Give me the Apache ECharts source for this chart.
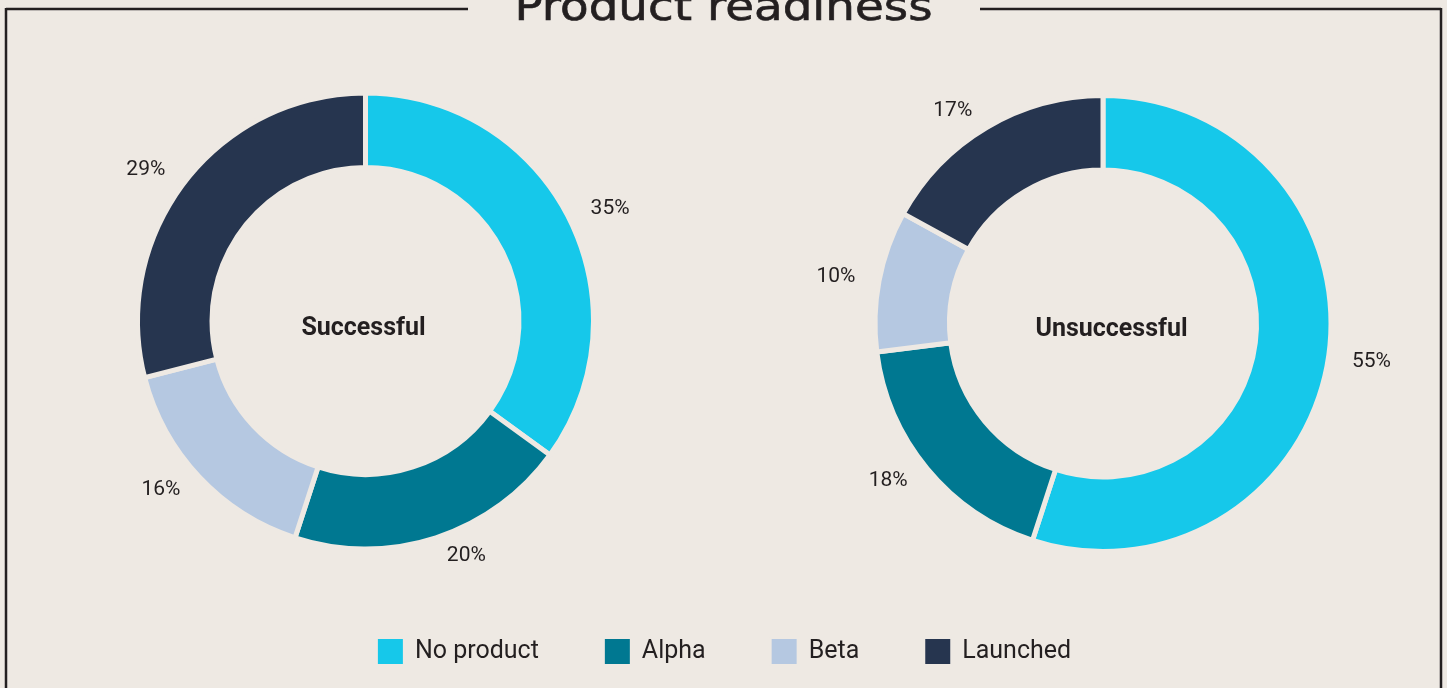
<!DOCTYPE html>
<html>
<head>
<meta charset="utf-8">
<script src="https://cdn.jsdelivr.net/npm/echarts@6/dist/echarts.min.js"></script>
<style>
  html, body { margin: 0; padding: 0; background: #EEE9E3; }
  #chart { width: 1447px; height: 688px; }
</style>
</head>
<body>
<div id="chart"></div>
<script>
// Product readiness by outcome (percent of companies)
const categories = ['No product', 'Alpha', 'Beta', 'Launched'];
const successful = [35, 20, 16, 29];
const unsuccessful = [55, 18, 10, 17];
const groupNames = ['Successful', 'Unsuccessful'];

const colors = ['#16C8EA', '#007891', '#B5C8E1', '#26354F'];
const bg = '#EEE9E3';
const ink = '#231F20';

const chart = echarts.init(document.getElementById('chart'), null, { renderer: 'canvas' });

function rows(values) {
  return categories.map((name, i) => ({ name, value: values[i] }));
}

// Donut ring with its percent labels just outside each slice;
// the background-coloured border opens a small gap between slices
function ring(values, center) {
  return {
    type: 'pie',
    center,
    radius: [153.5, 228],
    startAngle: 90,
    clockwise: true,
    avoidLabelOverlap: false,
    silent: true,
    data: rows(values),
    itemStyle: { borderColor: bg, borderWidth: 5 },
    label: {
      show: true,
      position: 'outside',
      alignTo: 'none',
      formatter: '{c}%',
      color: ink,
      fontFamily: 'Roboto',
      fontSize: 21
    },
    labelLine: { show: false, length: 19, length2: 0 }
  };
}

const leftCenter = [365.5, 321];
const rightCenter = [1103, 323.5];

function caption(text, x, y) {
  return {
    type: 'text',
    x, y,
    style: {
      text,
      fontFamily: 'Roboto',
      fontWeight: 'bold',
      fontSize: 25,
      fill: ink,
      textAlign: 'center',
      textVerticalAlign: 'middle'
    }
  };
}

const option = {
  backgroundColor: bg,
  color: colors,
  animation: false,
  legend: {
    data: categories,
    left: 'center',
    top: 632,
    icon: 'rect',
    itemWidth: 27,
    itemHeight: 27,
    itemGap: 64,
    selectedMode: false,
    textStyle: {
      color: ink,
      fontFamily: 'Roboto',
      fontSize: 25,
      padding: [0, 0, 0, 6]
    }
  },
  series: [
    ring(successful, leftCenter),
    ring(unsuccessful, rightCenter)
  ],
  graphic: [
    // frame
    { type: 'line', shape: { x1: 6, y1: 9, x2: 468, y2: 9 }, style: { stroke: ink, lineWidth: 2.5 } },
    { type: 'line', shape: { x1: 980, y1: 9, x2: 1441, y2: 9 }, style: { stroke: ink, lineWidth: 2.5 } },
    { type: 'line', shape: { x1: 6, y1: 8, x2: 6, y2: 688 }, style: { stroke: ink, lineWidth: 2.5 } },
    { type: 'line', shape: { x1: 1441, y1: 8, x2: 1441, y2: 688 }, style: { stroke: ink, lineWidth: 2.5 } },
    // heading
    {
      type: 'text',
      x: 723.5,
      y: 10,
      scaleX: 1.17,
      style: {
        text: 'Product readiness',
        fontFamily: 'DejaVu Sans',
        fontSize: 40,
        fill: ink,
        stroke: ink,
        lineWidth: 0.6,
        textAlign: 'center',
        textVerticalAlign: 'middle'
      }
    },
    // donut captions
    caption(groupNames[0], 363.5, 329),
    caption(groupNames[1], 1111.5, 330)
  ]
};

chart.setOption(option);
</script>
</body>
</html>
